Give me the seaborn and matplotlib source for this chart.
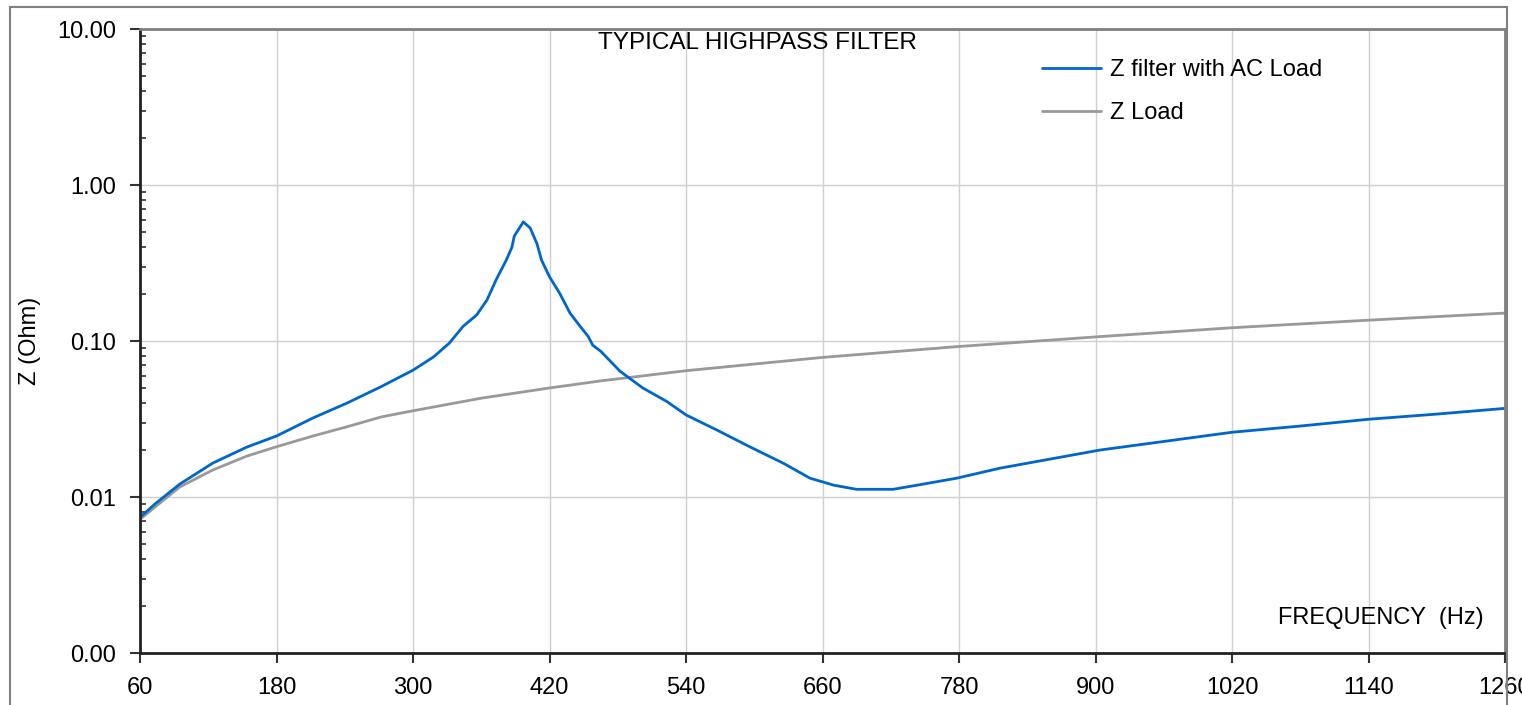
import numpy as np
import pandas as pd
import matplotlib
matplotlib.use("Agg")
import matplotlib.pyplot as plt
import seaborn as sns
from matplotlib.patches import Rectangle
from matplotlib.lines import Line2D
from matplotlib.ticker import FixedLocator, FixedFormatter, LogLocator, NullFormatter

# ---------------- data ----------------
filter_freq = [60, 73, 95, 124, 154, 180, 212, 242, 272, 300, 318, 332, 344, 356,
               365, 373, 382, 387, 389, 397, 403, 409, 413, 420, 429, 438, 447,
               454, 458, 465, 482, 502, 523, 540, 567, 596, 626, 649, 670, 690,
               722, 743, 778, 816, 860, 904, 1020, 1080, 1140, 1200, 1260]
filter_z = [0.0074, 0.0090, 0.0121, 0.0165, 0.0209, 0.0246, 0.0321, 0.040, 0.051,
            0.065, 0.079, 0.097, 0.124, 0.147, 0.183, 0.246, 0.33, 0.40, 0.47,
            0.58, 0.53, 0.42, 0.33, 0.258, 0.202, 0.151, 0.124, 0.107, 0.094,
            0.086, 0.064, 0.050, 0.041, 0.0336, 0.0269, 0.021, 0.0164, 0.0132,
            0.0119, 0.0112, 0.0112, 0.0119, 0.0132, 0.0153, 0.0175, 0.020,
            0.026, 0.0285, 0.0315, 0.034, 0.037]

load_freq = [60, 95, 124, 154, 180, 212, 242, 272, 300, 360, 420, 465, 540, 660,
             778, 904, 1020, 1140, 1260]
load_z = [0.0072, 0.0116, 0.0149, 0.0183, 0.021, 0.0246, 0.0282, 0.0326, 0.0357,
          0.043, 0.050, 0.0555, 0.0645, 0.0785, 0.092, 0.1067, 0.1216, 0.136, 0.151]

series_names = ["Z filter with AC Load", "Z Load"]
x_ticks = [60, 180, 300, 420, 540, 660, 780, 900, 1020, 1140, 1260]
x_tick_labels = ["60", "180", "300", "420", "540", "660", "780", "900", "1020", "1140", "1260"]
y_ticks = [0.001, 0.01, 0.1, 1.0, 10.0]
y_tick_labels = ["0.00", "0.01", "0.10", "1.00", "10.00"]
chart_title = "TYPICAL HIGHPASS FILTER"
x_title = "FREQUENCY  (Hz)"
y_title = "Z (Ohm)"

# ---------------- style ----------------
sns.set_style("white")
plt.rcParams["font.family"] = ["Liberation Sans", "DejaVu Sans"]
plt.rcParams["text.color"] = "black"
plt.rcParams["axes.labelcolor"] = "black"

BLUE = "#0066cc"
GRAY = "#999999"
W, H = 1522, 705
FS = 17

df_filter = pd.DataFrame({"freq": filter_freq, "z": filter_z, "series": series_names[0]})
df_load = pd.DataFrame({"freq": load_freq, "z": load_z, "series": series_names[1]})

fig = plt.figure(figsize=(W / 100, H / 100), dpi=100)
ax = fig.add_axes([140 / W, 1 - 653 / H, (1505 - 140) / W, (653 - 29) / H])

sns.lineplot(data=df_load, x="freq", y="z", color=GRAY, linewidth=2.0,
             estimator=None, sort=False, ax=ax, legend=False)
sns.lineplot(data=df_filter, x="freq", y="z", color=BLUE, linewidth=2.0,
             estimator=None, sort=False, ax=ax, legend=False)

ax.set_yscale("log")
ax.set_xlim(60, 1260)
ax.set_ylim(0.001, 10)

ax.xaxis.set_major_locator(FixedLocator(x_ticks))
ax.xaxis.set_major_formatter(FixedFormatter(x_tick_labels))
ax.yaxis.set_major_locator(FixedLocator(y_ticks))
ax.yaxis.set_major_formatter(FixedFormatter(y_tick_labels))
ax.yaxis.set_minor_locator(LogLocator(base=10, subs=np.arange(2, 10)))
ax.yaxis.set_minor_formatter(NullFormatter())

ax.grid(True, which="major", color="#d0d0d0", linewidth=1.0)
ax.set_axisbelow(True)

ax.tick_params(axis="both", which="major", direction="out", length=7, width=1.5,
               color="#333333", labelsize=FS, labelcolor="black", pad=10)
ax.tick_params(axis="x", which="major", pad=10)
ax.tick_params(axis="y", which="minor", direction="in", length=4, width=1.2,
               color="#333333", left=True)
ax.tick_params(axis="x", which="both", bottom=True)
ax.tick_params(axis="y", which="major", left=True)

for side in ["left", "bottom"]:
    ax.spines[side].set_color("#222222")
    ax.spines[side].set_linewidth(2.0)
for side in ["top", "right"]:
    ax.spines[side].set_color("#808080")
    ax.spines[side].set_linewidth(2.0)

ax.set_xlabel("")
ax.set_ylabel(y_title, fontsize=FS, labelpad=12, color="black")

ax.text(0.452, 0.995, chart_title, transform=ax.transAxes, ha="center", va="top",
        fontsize=17.5, color="black")
ax.text(0.984, 0.056, x_title, transform=ax.transAxes, ha="right", va="center",
        fontsize=FS, color="black")

handles = [Line2D([], [], color=BLUE, linewidth=2.0),
           Line2D([], [], color=GRAY, linewidth=2.0)]
leg = ax.legend(handles, series_names, loc="upper left",
                bbox_to_anchor=(0.661, 0.952), frameon=False, fontsize=FS,
                handlelength=2.5, handletextpad=0.35, labelspacing=0.9,
                borderpad=0, borderaxespad=0)
for t in leg.get_texts():
    t.set_color("black")

# outer chart frame (cropped on the right / bottom as in the reference)
frame = Rectangle((10 / W, -0.05), (1507 - 10) / W, 1 - 7 / H + 0.05,
                  transform=fig.transFigure, fill=False, edgecolor="#808080",
                  linewidth=1.5, zorder=10)
fig.add_artist(frame)

fig.savefig("out.png", dpi=100)
